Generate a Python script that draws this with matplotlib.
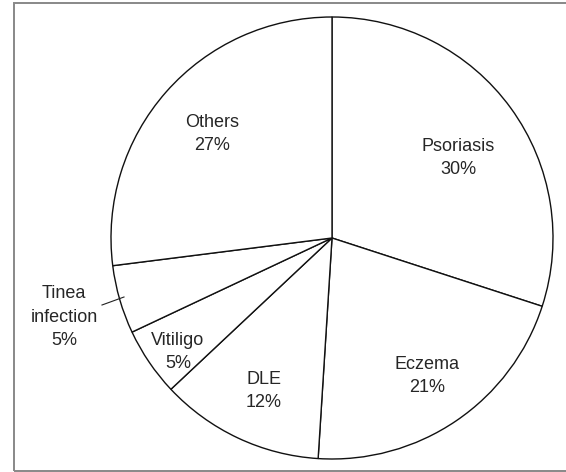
import matplotlib
matplotlib.use("Agg")
import matplotlib.pyplot as plt
from matplotlib.patches import Rectangle

labels = ['Psoriasis', 'Eczema', 'DLE', 'Vitiligo', 'Tinea\ninfection', 'Others']
shares = [30, 21, 12, 5, 5, 27]

W, H = 566, 472
cx, cy, r = 332, 238, 221  # pie centre / radius in pixels (y from top)

# where each label sits (pixel coords, y from top), centre of the text block
label_pos = [(458, 158), (427, 376), (264, 391), (178, 352), (64, 317), (212, 134)]

plt.rcParams['font.family'] = ['Liberation Sans', 'DejaVu Sans']

fig = plt.figure(figsize=(W / 100, H / 100), dpi=100)
ax = fig.add_axes([0, 0, 1, 1])

ax.pie(shares, startangle=90, counterclock=False,
       center=(cx, H - cy), radius=r, frame=True,
       colors=['white'] * len(shares),
       wedgeprops=dict(edgecolor='#111111', linewidth=1.0))

for lab, val, (x, y) in zip(labels, shares, label_pos):
    ax.text(x, H - y, f'{lab}\n{val}%', ha='center', va='center',
            fontsize=13, color='#262626', linespacing=1.5)

# leader line for the small Tinea slice
ax.plot([102, 124], [H - 305, H - 297], color='#222222', lw=0.8)

# outer box
ax.add_patch(Rectangle((14, 1), W, H - 4, fill=False,
                       edgecolor='#888888', lw=1.4, clip_on=False))

ax.set_xlim(0, W)
ax.set_ylim(0, H)
ax.set_aspect('equal')
ax.axis('off')

fig.savefig('out.png', dpi=100)
